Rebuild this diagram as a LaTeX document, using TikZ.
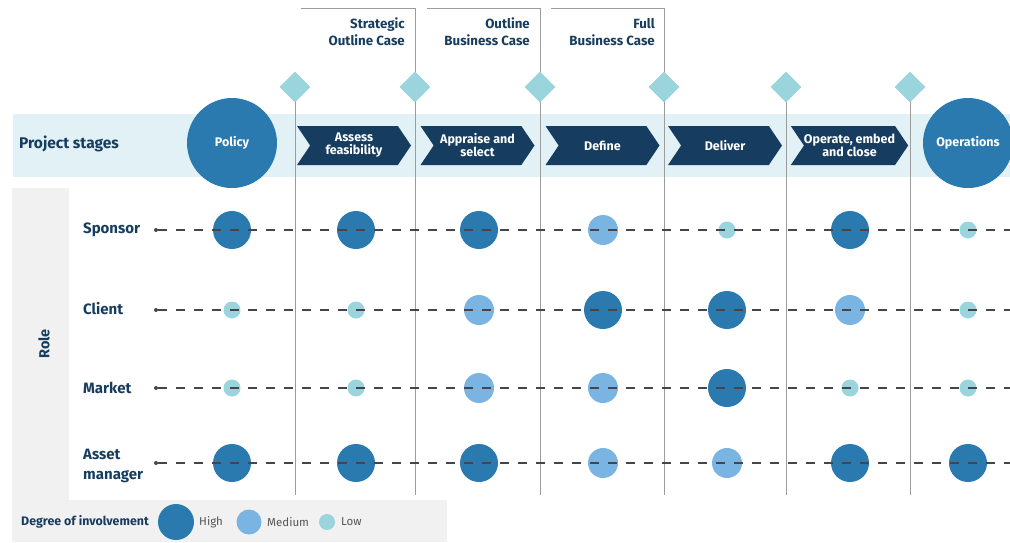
\documentclass[tikz,border=0pt]{standalone}
\usepackage{fontspec}
\setmainfont{Fira Sans}
\usepackage{xcolor}
\usepackage{tikz}
\usetikzlibrary{shapes.geometric,shapes.symbols}

\definecolor{navy}{HTML}{163D5F}
\definecolor{bandcol}{HTML}{E1F1F6}
\definecolor{panelcol}{HTML}{F1F1F1}
\definecolor{hicol}{HTML}{2A7AAF}
\definecolor{midcol}{HTML}{79B4E3}
\definecolor{locol}{HTML}{9AD4DC}
\definecolor{gatecol}{HTML}{9C9C9C}
\definecolor{dashcol}{HTML}{45454D}
\definecolor{legtext}{HTML}{555555}

\tikzset{
  stagebox/.style={signal, signal from=west, signal to=east, signal pointer angle=112,
    fill=navy, text=white, align=center, inner sep=0pt,
    minimum width=114pt, minimum height=39pt,
    font=\bfseries\fontsize{12.5}{13}\selectfont},
  endcircle/.style={circle, fill=hicol, text=white, minimum size=90pt, inner sep=0pt,
    font=\bfseries\fontsize{12.5}{14}\selectfont},
  gatemark/.style={diamond, aspect=1, fill=locol, minimum size=31pt, inner sep=0pt},
  gateline/.style={draw=gatecol, line width=1pt},
  caselabel/.style={anchor=north east, align=right, inner sep=0pt, text=navy,
    font=\bfseries\fontsize{13.3}{17}\selectfont},
  rolelabel/.style={anchor=west, align=left, inner sep=0pt, text=navy,
    font=\bfseries\fontsize{15}{20}\selectfont},
  rowdot/.style={circle, fill=dashcol, minimum size=4pt, inner sep=0pt},
  rowline/.style={draw=dashcol, line width=1.1pt, dash pattern=on 9pt off 9pt},
  invhi/.style={circle, fill=hicol, minimum size=38pt, inner sep=0pt},
  invmid/.style={circle, fill=midcol, minimum size=30pt, inner sep=0pt},
  invlo/.style={circle, fill=locol, minimum size=17pt, inner sep=0pt},
  legtxt/.style={anchor=west, inner sep=0pt, text=legtext, font=\fontsize{11.5}{13}\selectfont}
}

\begin{document}
\begin{tikzpicture}[x=1pt, y=-1pt]

  \useasboundingbox (0,0) rectangle (1010,542);

  % Background band and grey panels
  \fill[bandcol] (13,114) rectangle (1010,177);
  \fill[panelcol] (12,188) rectangle (69,500);
  \fill[panelcol] (12,500) rectangle (447,542);

  % Gate lines, the first three with a bracket on top
  \coordinate (top2a) at (301,8);  \coordinate (top2b) at (415,8);
  \coordinate (top3a) at (427,8);  \coordinate (top3b) at (540,8);
  \coordinate (top4a) at (551,8);  \coordinate (top4b) at (664,8);
  \foreach \i/\x in {1/295,2/415,3/540,4/664,5/786,6/910}
    \coordinate (foot\i) at (\x,495);
  \draw[gateline] (295,87) -- (foot1);
  \draw[gateline] (top2a) -- (top2b) -- (foot2);
  \draw[gateline] (top3a) -- (top3b) -- (foot3);
  \draw[gateline] (top4a) -- (top4b) -- (foot4);
  \draw[gateline] (786,87) -- (foot5);
  \draw[gateline] (910,87) -- (foot6);

  % Gate diamonds
  \foreach \i/\x in {1/295,2/415,3/540,4/664,5/786,6/910}
    \node[gatemark] (gate\i) at (\x,87) {};

  % Business case labels
  \node[caselabel] (soc) at (405,18) {Strategic\\Outline Case};
  \node[caselabel] (obc) at (530,18) {Outline\\Business Case};
  \node[caselabel] (fbc) at (655,18) {Full\\Business Case};

  % Project stages
  \node[anchor=west, inner sep=0pt, text=navy, font=\bfseries\fontsize{15.5}{17}\selectfont]
    (stages) at (19,144) {Project stages};
  \node[endcircle] (policy) at (232,143) {Policy};
  \node[endcircle] (operations) at (968,143) {Operations};
  \node[stagebox] (assess) at (354,145.5) {Assess\\feasibility};
  \node[stagebox] (appraise) at (477.5,145.5) {Appraise and\\select};
  \node[stagebox] (define) at (602.5,145.5) {Define};
  \node[stagebox] (deliver) at (725,145.5) {Deliver};
  \node[stagebox] (operate) at (849.5,145.5) {Operate, embed\\and close};

  % Role column
  \node[rotate=90, inner sep=0pt, text=navy, font=\bfseries\fontsize{14.5}{16}\selectfont]
    (role) at (44,344) {Role};
  \node[rolelabel] (sponsor) at (83,230) {Sponsor};
  \node[rolelabel] (client) at (83,309) {Client};
  \node[rolelabel] (market) at (83,388) {Market};
  \node[rolelabel] (asset) at (83,466) {Asset\\manager};

  % Involvement bubbles: one row per role
  \foreach \r/\y/\levels in {
      1/230/{invhi,invhi,invhi,invmid,invlo,invhi,invlo},
      2/310/{invlo,invlo,invmid,invhi,invhi,invmid,invlo},
      3/388/{invlo,invlo,invmid,invmid,invhi,invlo,invlo},
      4/463/{invhi,invhi,invhi,invmid,invmid,invhi,invhi}}
    \foreach \lvl [count=\c] in \levels {
      \pgfmathsetmacro\bx{{232,356,479,603,727,850,968}[\c-1]}
      \node[\lvl] (bub\r-\c) at (\bx,\y) {};
    }

  % Dashed row lines
  \foreach \r/\y in {1/230,2/310,3/388,4/463} {
    \node[rowdot] (dot\r) at (156,\y) {};
    \coordinate (end\r) at (1010,\y);
    \draw[rowline] (dot\r) -- (end\r);
  }

  % Legend
  \node[anchor=west, inner sep=0pt, text=navy, font=\bfseries\fontsize{12.4}{14}\selectfont]
    (legtitle) at (21,522) {Degree of involvement};
  \node[invhi, minimum size=36pt] (leghi) at (176,522) {};
  \node[legtxt] (leghitxt) at (199,522) {High};
  \node[invmid, minimum size=25pt] (legmid) at (249,522) {};
  \node[legtxt] (legmidtxt) at (267,522) {Medium};
  \node[invlo, minimum size=16pt] (leglo) at (327,522) {};
  \node[legtxt] (leglotxt) at (341,522) {Low};

\end{tikzpicture}
\end{document}
